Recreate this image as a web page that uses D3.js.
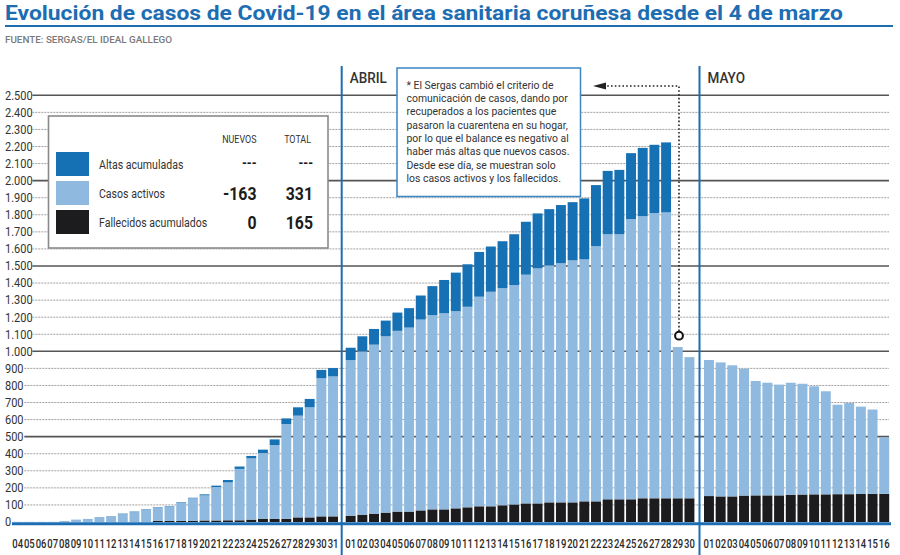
<!DOCTYPE html>
<html><head><meta charset="utf-8">
<script src="https://cdn.jsdelivr.net/npm/d3@7"></script>
<style>body{margin:0;background:#fff}svg{display:block;font-family:Roboto,"Noto Sans",sans-serif}</style>
</head><body>
<svg id="chart" width="900" height="555"></svg>
<script>
// ---------- DATA ----------
const marDays = ["04","05","06","07","08","09","10","11","12","13","14","15","16","17","18","19","20","21","22","23","24","25","26","27","28","29","30","31"];
const aprDays = ["01","02","03","04","05","06","07","08","09","10","11","12","13","14","15","16","17","18","19","20","21","22","23","24","25","26","27","28","29","30"];
const mayDays = ["01","02","03","04","05","06","07","08","09","10","11","12","13","14","15","16"];

const marFallecidos = [0,0,0,0,0,0,0,0,0,0,0,0,6,6,6,6,9,9,10,10,14,18,18,18,27,27,33,33];
const marActivos    = [1,1,1,1,6,14,18,29,35,46,58,71,77,83,107,133,147,196,222,301,359,386,433,556,596,645,809,820];
const marAltas      = [0,0,0,0,0,0,0,0,0,3,3,3,3,3,3,3,6,8,14,14,14,20,33,33,49,49,49,49];

const aprFallecidos = [37,43,49,55,61,61,68,74,74,80,86,92,92,98,103,109,109,115,115,115,121,121,133,133,133,139,139,139,139,139];
const aprActivos    = [912,957,990,1033,1059,1078,1118,1138,1149,1155,1175,1228,1257,1272,1285,1340,1377,1389,1401,1418,1418,1495,1553,1553,1642,1653,1671,1675,886,827];
const aprAltas      = [72,88,92,92,107,114,141,170,195,226,249,262,265,275,298,310,322,329,341,341,357,358,371,377,386,400,400,410,0,0];

const mayFallecidos = [152,150,150,155,156,156,156,160,161,162,162,163,163,164,165,165];
const mayActivos    = [797,785,768,743,670,660,649,656,649,633,604,524,534,512,494,331];
const mayAltas      = [0,0,0,0,0,0,0,0,0,0,0,0,0,0,0,0];

const monthNames = ["", "ABRIL", "MAYO"];
const yTicks = [0,100,200,300,400,500,600,700,800,900,1000,1100,1200,1300,1400,1500,1600,1700,1800,1900,2000,2100,2200,2300,2400,2500];

const seriesKeys = ["fallecidos","activos","altas"];
const legendLabels = ["Altas acumuladas","Casos activos","Fallecidos acumulados"];
const legendKeys = ["altas","activos","fallecidos"];
const legendNuevos = ["---","-163","0"];
const legendTotal = ["---","331","165"];

const titleText = "Evolución de casos de Covid-19 en el área sanitaria coruñesa desde el 4 de marzo";
const sourceText = "FUENTE: SERGAS/EL IDEAL GALLEGO";
const noteLines = [
  "* El Sergas cambió el criterio de",
  "comunicación de casos, dando por",
  "recuperados a los pacientes que",
  "pasaron la cuarentena en su hogar,",
  "por lo que el balance es negativo al",
  "haber más altas que nuevos casos.",
  "Desde ese día, se muestran solo",
  "los casos activos y los fallecidos."
];

// ---------- STYLE ----------
const colors = {altas:"#1571b4", activos:"#8fb9de", fallecidos:"#1c1c1e"};
const blue = "#1d6db2";

const svg = d3.select("#chart");
function squeeze(sel, f){ sel.each(function(){ const w=this.getComputedTextLength(); this.setAttribute("textLength", w*f); this.setAttribute("lengthAdjust","spacingAndGlyphs"); }); }
function fitTo(sel, w){ sel.each(function(){ this.setAttribute("textLength", w); this.setAttribute("lengthAdjust","spacingAndGlyphs"); }); }

const months = [
  {days:marDays, f:marFallecidos, a:marActivos, h:marAltas, range:[12.7,338.0]},
  {days:aprDays, f:aprFallecidos, a:aprActivos, h:aprAltas, range:[345.7,694.4]},
  {days:mayDays, f:mayFallecidos, a:mayActivos, h:mayAltas, range:[704,889.2]}
];

const y = d3.scaleLinear().domain([0,2500]).range([522,95.3]);
const fmt = d3.formatLocale({decimal:",", thousands:".", grouping:[3], currency:["","€"]}).format(",d");

// ---------- TITLE ----------
const title = svg.append("text").attr("x",5).attr("y",20).attr("fill",blue)
  .attr("font-size",20.5).attr("font-weight",700).text(titleText);
fitTo(title, 838);
svg.append("line").attr("x1",5).attr("x2",893).attr("y1",26).attr("y2",26).attr("stroke",blue).attr("stroke-width",2);
const src = svg.append("text").attr("x",5).attr("y",43).attr("fill","#7a7a7a")
  .attr("font-size",9).attr("font-weight",500).text(sourceText);
fitTo(src, 167);

// ---------- GRID ----------
const grid = svg.append("g");
yTicks.forEach(t => {
  const lab = grid.append("text").attr("x",5).attr("y",y(t)).attr("dy","0.35em")
    .attr("font-size",12.5).attr("fill","#333").text(fmt(t));
  squeeze(lab, 0.88);
  if (t === 0) return;
  const w = lab.node().getComputedTextLength()*0.88;
  const solid = t % 500 === 0;
  grid.append("line").attr("x1",5+w+3).attr("x2",889).attr("y1",y(t)).attr("y2",y(t))
    .attr("stroke", solid ? "#555" : "#a0a0a0")
    .attr("stroke-width", solid ? 1.6 : 1)
    .attr("stroke-dasharray", solid ? null : "2,1");
});

// ---------- BARS ----------
const bars = svg.append("g");
const xl = svg.append("g");
months.forEach(m => {
  const x = d3.scaleBand().domain(m.days).range(m.range).paddingInner(0.15).paddingOuter(0);
  const rows = m.days.map((d,i) => ({day:d, fallecidos:m.f[i], activos:m.a[i], altas:m.h[i]}));
  const stack = d3.stack().keys(seriesKeys)(rows);
  bars.selectAll(null).data(stack).join("g").attr("fill", s => colors[s.key])
    .selectAll("rect").data(s => s).join("rect")
    .attr("x", d => x(d.data.day)).attr("width", x.bandwidth())
    .attr("y", d => y(d[1])).attr("height", d => Math.max(0, y(d[0]) - y(d[1])));
  const labs = xl.selectAll(null).data(m.days).join("text")
    .attr("text-anchor","middle").attr("font-size",13).attr("font-weight",500).attr("fill","#2a2a2a")
    .text(d => d);
  labs.each(function(d){
    const w = this.getComputedTextLength();
    const s = (x.step() - 0.9) / w;
    this.setAttribute("transform", `translate(${x(d) + x.bandwidth()/2},547.5) scale(${s},1)`);
  });
});

// baseline
svg.append("line").attr("x1",12).attr("x2",891).attr("y1",523.8).attr("y2",523.8)
  .attr("stroke",blue).attr("stroke-width",3);

// month separators
const sepX = [341.7, 699.5];
sepX.forEach((sx,i) => {
  svg.append("line").attr("x1",sx).attr("x2",sx).attr("y1",66).attr("y2",555)
    .attr("stroke",blue).attr("stroke-width",2);
  const t = svg.append("text").attr("x", sx+8).attr("y",83).attr("font-size",15).attr("font-weight",500)
    .attr("fill","#333").text(monthNames[i+1]);
  squeeze(t, 0.9);
});

// ---------- LEGEND ----------
const lg = svg.append("g");
lg.append("rect").attr("x",48.5).attr("y",116).attr("width",279.5).attr("height",132)
  .attr("fill","#fff").attr("stroke","#8a8a8a").attr("stroke-width",1.6);
const h1 = lg.append("text").attr("x",256.5).attr("y",143).attr("text-anchor","end").attr("font-size",10.5).attr("fill","#333").text("NUEVOS");
const h2 = lg.append("text").attr("x",311).attr("y",143).attr("text-anchor","end").attr("font-size",10.5).attr("fill","#333").text("TOTAL");
squeeze(h1,0.85); squeeze(h2,0.85);
const rowY = [152, 181, 210];
legendKeys.forEach((k,i) => {
  lg.append("rect").attr("x",56).attr("y",rowY[i]).attr("width",33).attr("height",24).attr("fill",colors[k]);
  const l = lg.append("text").attr("x",99).attr("y",rowY[i]+17).attr("font-size",12).attr("fill","#333").text(legendLabels[i]);
  squeeze(l, 0.88);
  const big = legendNuevos[i] !== "---";
  const n = lg.append("text").attr("x",256.5).attr("y",rowY[i]+ (big?19:16)).attr("text-anchor","end")
    .attr("font-size", big?18:14).attr("font-weight",700).attr("fill","#1c1c1c").text(legendNuevos[i]);
  const tt = lg.append("text").attr("x",313).attr("y",rowY[i]+ (big?19:16)).attr("text-anchor","end")
    .attr("font-size", big?18:14).attr("font-weight",700).attr("fill","#1c1c1c").text(legendTotal[i]);
  squeeze(n,0.88); squeeze(tt,0.88);
});

// ---------- NOTE ----------
const ng = svg.append("g");
ng.append("rect").attr("x",397).attr("y",68).attr("width",183.5).attr("height",128.5)
  .attr("fill","#fff").attr("stroke","#3b86c4").attr("stroke-width",1.5);
const nl = ng.selectAll(null).data(noteLines).join("text")
  .attr("x",406.5).attr("y",(d,i)=>88.5 + i*13.35).attr("font-size",11.5).attr("fill","#333").text(d=>d);
let maxW = 0; nl.each(function(){ maxW = Math.max(maxW, this.getComputedTextLength()); });
squeeze(nl, 163/maxW);

// ---------- ARROW ----------
const ax = 679, ay = 86, cy = 335.7;
svg.append("path").attr("d", `M${ax},${cy-4.5}V${ay}H604`).attr("fill","none")
  .attr("stroke","#222").attr("stroke-width",1.6).attr("stroke-dasharray","1.6,2.2");
svg.append("path").attr("d", `M593,${ay}L606,${ay-3.6}L606,${ay+3.6}Z`).attr("fill","#222");
svg.append("circle").attr("cx",ax).attr("cy",cy).attr("r",3.9).attr("fill","#fff").attr("stroke","#111").attr("stroke-width",2);
</script>
</body></html>
